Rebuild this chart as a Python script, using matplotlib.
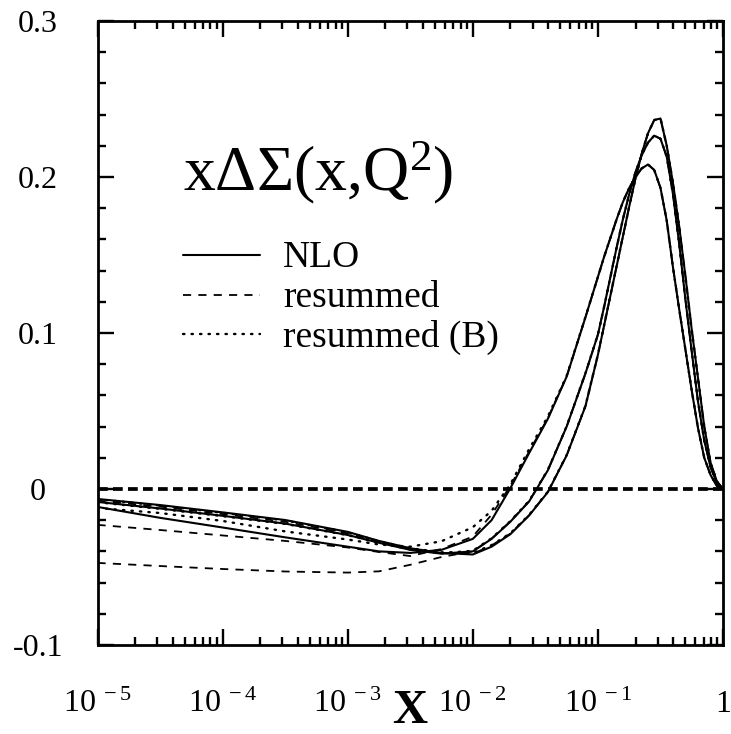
import numpy as np
import matplotlib
matplotlib.use("Agg")
import matplotlib.pyplot as plt
from matplotlib.ticker import FixedLocator, LogLocator, NullFormatter

plt.rcParams["font.family"] = ["Liberation Serif", "DejaVu Serif"]
plt.rcParams["mathtext.fontset"] = "custom"
plt.rcParams["mathtext.rm"] = "Liberation Serif"
plt.rcParams["mathtext.it"] = "Liberation Serif:italic"
plt.rcParams["mathtext.bf"] = "Liberation Serif:bold"

# log10(x) sampling points
log_x = [-5, -4.5, -4, -3.5, -3, -2.75, -2.5, -2.25, -2, -1.85, -1.7, -1.55, -1.4,
         -1.25, -1.1, -1.0, -0.95, -0.9, -0.85, -0.8, -0.75, -0.7, -0.65, -0.6,
         -0.55, -0.5, -0.45, -0.4, -0.35, -0.3, -0.25, -0.2, -0.15, -0.1, -0.05, 0.0]

# x*DeltaSigma(x,Q^2) for three scales: NLO, resummed, resummed (B)
nlo_1 = [-0.0064, -0.0103, -0.0150, -0.0199, -0.0275, -0.0333, -0.0380, -0.0410, -0.0420,
         -0.0370, -0.0290, -0.0170, -0.0020, 0.0215, 0.0530, 0.0860, 0.1050, 0.1240,
         0.1430, 0.1620, 0.1810, 0.1990, 0.2150, 0.2280, 0.2365, 0.2375, 0.2200, 0.1960,
         0.1680, 0.1360, 0.1020, 0.0710, 0.0400, 0.0170, 0.0050, 0.0]
res_1 = [-0.0074, -0.0113, -0.0161, -0.0210, -0.0285, -0.0339, -0.0385, -0.0412, -0.0415,
         -0.0362, -0.0286, -0.0168, -0.0018, 0.0216, 0.0530, 0.0860, 0.1050, 0.1240,
         0.1430, 0.1620, 0.1810, 0.1990, 0.2150, 0.2280, 0.2365, 0.2375, 0.2200, 0.1960,
         0.1680, 0.1360, 0.1020, 0.0710, 0.0400, 0.0170, 0.0050, 0.0]
resb_1 = [-0.0066, -0.0106, -0.0153, -0.0202, -0.0278, -0.0335, -0.0380, -0.0406, -0.0410,
          -0.0360, -0.0284, -0.0166, -0.0017, 0.0218, 0.0532, 0.0862, 0.1052, 0.1242,
          0.1432, 0.1620, 0.1810, 0.1990, 0.2150, 0.2280, 0.2365, 0.2375, 0.2200, 0.1960,
          0.1680, 0.1360, 0.1020, 0.0710, 0.0400, 0.0170, 0.0050, 0.0]

nlo_2 = [-0.0083, -0.0125, -0.0172, -0.0222, -0.0295, -0.0345, -0.0390, -0.0415, -0.0400,
         -0.0320, -0.0210, -0.0080, 0.0120, 0.0400, 0.0740, 0.0990, 0.1170, 0.1360,
         0.1550, 0.1730, 0.1890, 0.2030, 0.2140, 0.2220, 0.2265, 0.2245, 0.2130, 0.1890,
         0.1570, 0.1210, 0.0880, 0.0560, 0.0310, 0.0140, 0.0040, 0.0]
res_2 = [-0.0474, -0.0494, -0.0513, -0.0529, -0.0536, -0.0528, -0.0486, -0.0436, -0.0400,
         -0.0318, -0.0208, -0.0078, 0.0122, 0.0400, 0.0740, 0.0990, 0.1170, 0.1360,
         0.1550, 0.1730, 0.1890, 0.2030, 0.2140, 0.2220, 0.2265, 0.2245, 0.2130, 0.1890,
         0.1570, 0.1210, 0.0880, 0.0560, 0.0310, 0.0140, 0.0040, 0.0]
resb_2 = [-0.0085, -0.0127, -0.0174, -0.0224, -0.0296, -0.0345, -0.0388, -0.0412, -0.0396,
          -0.0316, -0.0206, -0.0076, 0.0123, 0.0402, 0.0742, 0.0990, 0.1170, 0.1360,
          0.1550, 0.1730, 0.1890, 0.2030, 0.2140, 0.2220, 0.2265, 0.2245, 0.2130, 0.1890,
          0.1570, 0.1210, 0.0880, 0.0560, 0.0310, 0.0140, 0.0040, 0.0]

nlo_3 = [-0.0115, -0.0185, -0.0247, -0.0310, -0.0370, -0.0400, -0.0410, -0.0390, -0.0320,
         -0.0200, 0.0005, 0.0230, 0.0450, 0.0720, 0.1100, 0.1360, 0.1490, 0.1610,
         0.1730, 0.1840, 0.1930, 0.2000, 0.2055, 0.2080, 0.2045, 0.1930, 0.1720, 0.1420,
         0.1150, 0.0890, 0.0630, 0.0390, 0.0200, 0.0090, 0.0020, 0.0]
res_3 = [-0.0230, -0.0263, -0.0298, -0.0333, -0.0375, -0.0404, -0.0430, -0.0385, -0.0305,
         -0.0165, 0.0020, 0.0240, 0.0455, 0.0722, 0.1100, 0.1360, 0.1490, 0.1610,
         0.1730, 0.1840, 0.1930, 0.2000, 0.2055, 0.2080, 0.2045, 0.1930, 0.1720, 0.1420,
         0.1150, 0.0890, 0.0630, 0.0390, 0.0200, 0.0090, 0.0020, 0.0]
resb_3 = [-0.0122, -0.0154, -0.0205, -0.0272, -0.0324, -0.0356, -0.0370, -0.0335, -0.0245,
          -0.0140, 0.0030, 0.0255, 0.0465, 0.0725, 0.1102, 0.1360, 0.1490, 0.1610,
          0.1730, 0.1840, 0.1930, 0.2000, 0.2055, 0.2080, 0.2045, 0.1930, 0.1720, 0.1420,
          0.1150, 0.0890, 0.0630, 0.0390, 0.0200, 0.0090, 0.0020, 0.0]

legend_labels = ["NLO", "resummed", "resummed (B)"]
x_ticks = [1e-5, 1e-4, 1e-3, 1e-2, 1e-1, 1.0]
x_ticklabels = [r"$10^{\ -5}$", r"$10^{\ -4}$", r"$10^{\ -3}$", r"$10^{\ -2}$",
                r"$10^{\ -1}$", "1"]
y_ticks = [-0.1, 0.0, 0.1, 0.2, 0.3]
y_ticklabels = ["-0.1", "0", "0.1", "0.2", "0.3"]

x = np.power(10.0, log_x)

fig = plt.figure(figsize=(7.31, 7.34), dpi=100)
ax = fig.add_axes([0.1334, 0.1213, 0.8557, 0.8501])

solid = dict(color="black", lw=1.5, solid_capstyle="round")
dashed = dict(color="black", lw=1.3, dashes=(4.5, 4.0))
dotted = dict(color="black", lw=1.7, dashes=(0.6, 3.0), dash_capstyle="round")

for nlo, res, resb in [(nlo_1, res_1, resb_1), (nlo_2, res_2, resb_2),
                       (nlo_3, res_3, resb_3)]:
    ax.plot(x, nlo, **solid)
    ax.plot(x, res, **dashed)
    ax.plot(x, resb, **dotted)

ax.axhline(0.0, color="black", lw=2.7, dashes=(2.6, 1.4), zorder=1)

ax.set_xscale("log")
ax.set_xlim(1e-5, 1.0)
ax.set_ylim(-0.1, 0.3)

ax.xaxis.set_major_locator(FixedLocator(x_ticks))
ax.set_xticklabels(x_ticklabels)
ax.xaxis.set_minor_locator(LogLocator(base=10, subs=np.arange(2, 10)))
ax.xaxis.set_minor_formatter(NullFormatter())
ax.yaxis.set_major_locator(FixedLocator(y_ticks))
ax.set_yticklabels(y_ticklabels)
ax.yaxis.set_minor_locator(FixedLocator(np.arange(-0.1, 0.301, 0.02)))

for spine in ax.spines.values():
    spine.set_linewidth(2.0)
ax.tick_params(which="both", direction="in", top=True, right=True, width=1.7)
ax.tick_params(which="major", length=11.5)
ax.tick_params(which="minor", length=5.5)
ax.tick_params(axis="x", which="major", labelsize=23, pad=48)
ax.tick_params(axis="y", which="major", labelsize=23, pad=43)
for lab in ax.get_yticklabels():
    lab.set_horizontalalignment("center")
for lab in ax.get_xticklabels():
    lab.set_verticalalignment("baseline")

fig.text(0.561, 0.002, "X", fontsize=35, fontweight="bold", ha="center",
         va="bottom")

ax.text(0.137, 0.728, r"$\mathrm{x\Delta\Sigma(x{,}Q^2)}$", transform=ax.transAxes,
        fontsize=46, va="baseline", ha="left")

# legend drawn by hand: sample line + label
styles = [solid, dashed, dotted]
rows = [0.605, 0.541, 0.478]
for style, label, yb in zip(styles, legend_labels, rows):
    ax.plot([0.137, 0.260], [yb + 0.02, yb + 0.02], transform=ax.transAxes, **style)
    ax.text(0.297, yb, label, transform=ax.transAxes, fontsize=27, va="baseline",
            ha="left")

fig.savefig("out.png", dpi=100)
